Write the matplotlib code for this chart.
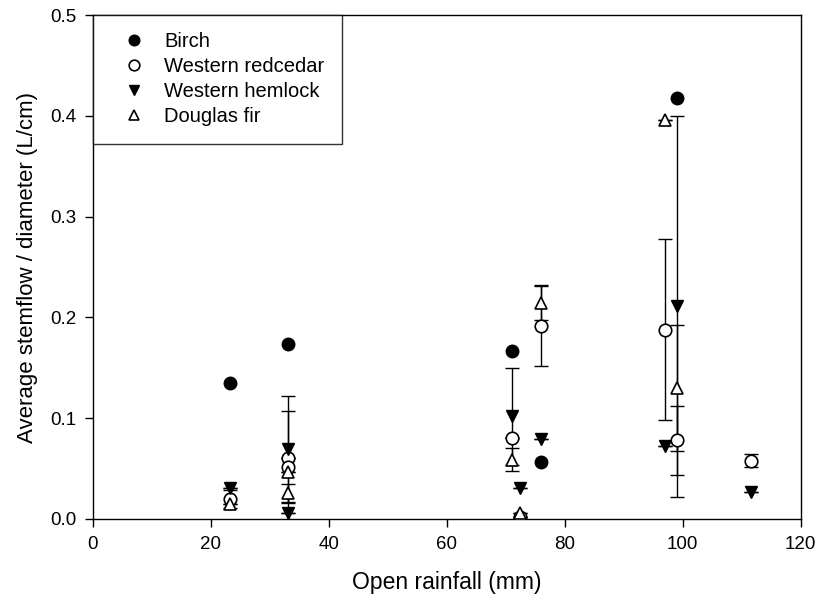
import matplotlib
matplotlib.use("Agg")
import matplotlib.pyplot as plt

plt.rcParams['font.family'] = ['Liberation Sans', 'DejaVu Sans']

# Open rainfall (mm) and stemflow per diameter (L/cm) for each species
birch_x = [23.3, 33.0, 71.1, 76.0, 99.0]
birch_y = [0.135, 0.174, 0.167, 0.057, 0.418]

redcedar_x = [23.3, 33.0, 33.0, 71.1, 72.5, 76.0, 97.0, 99.0, 111.6]
redcedar_y = [0.020, 0.061, 0.052, 0.080, 0.002, 0.192, 0.188, 0.078, 0.058]
redcedar_err = [0.009, 0.0, 0.055, 0.0, 0.0, 0.040, 0.090, 0.034, 0.0065]

hemlock_x = [23.3, 33.0, 33.0, 71.1, 72.5, 76.0, 97.0, 99.0, 111.6]
hemlock_y = [0.031, 0.069, 0.006, 0.102, 0.031, 0.079, 0.072, 0.211, 0.027]
hemlock_err = [0.0, 0.053, 0.0, 0.048, 0.0, 0.0, 0.0, 0.189, 0.0]

douglas_x = [23.3, 33.0, 33.0, 71.1, 72.5, 76.0, 97.0, 99.0]
douglas_y = [0.015, 0.047, 0.026, 0.059, 0.006, 0.214, 0.396, 0.130]
douglas_err = [0.0, 0.0, 0.009, 0.011, 0.0, 0.017, 0.0, 0.063]

fig = plt.figure(figsize=(8.19, 6.07), dpi=100)
ax = fig.add_axes([0.1135, 0.145, 0.864, 0.83])

ebar = dict(fmt='none', ecolor='black', elinewidth=1.0, capsize=5, capthick=1.0, zorder=2)
ax.errorbar(redcedar_x, redcedar_y, yerr=redcedar_err, **ebar)
ax.errorbar(hemlock_x, hemlock_y, yerr=hemlock_err, **ebar)
ax.errorbar(douglas_x, douglas_y, yerr=douglas_err, **ebar)

ax.plot(birch_x, birch_y, 'o', color='black', markersize=9, ls='none',
        label='Birch', zorder=3)
ax.plot(redcedar_x, redcedar_y, 'o', mfc='white', mec='black', mew=1.2,
        markersize=9, ls='none', label='Western redcedar', zorder=3)
ax.plot(hemlock_x, hemlock_y, 'v', color='black', markersize=9, ls='none',
        label='Western hemlock', zorder=3)
ax.plot(douglas_x, douglas_y, '^', mfc='white', mec='black', mew=1.2,
        markersize=9, ls='none', label='Douglas fir', zorder=3)

ax.set_xlim(0, 120)
ax.set_ylim(0, 0.5)
ax.set_xticks(range(0, 121, 20))
ax.set_yticks([0.0, 0.1, 0.2, 0.3, 0.4, 0.5])
ax.set_yticklabels(['0.0', '0.1', '0.2', '0.3', '0.4', '0.5'])
ax.tick_params(direction='out', length=5.5, width=1, labelsize=13.5)
ax.tick_params(axis='x', pad=7)
ax.tick_params(axis='y', pad=6.5)
ax.tick_params(top=False, right=False)
for s in ax.spines.values():
    s.set_linewidth(1.0)

ax.set_xlabel('Open rainfall (mm)', fontsize=16.5, labelpad=13)
ax.set_ylabel('Average stemflow / diameter (L/cm)', fontsize=16, labelpad=9)

leg = ax.legend(loc='upper left', fontsize=14.5, frameon=True, fancybox=False,
                edgecolor='black', borderaxespad=0, markerscale=0.85,
                handletextpad=0.3, borderpad=0.85, labelspacing=0.3,
                handlelength=2.4)
leg.get_frame().set_linewidth(1.0)

fig.savefig('out.png', dpi=100)
